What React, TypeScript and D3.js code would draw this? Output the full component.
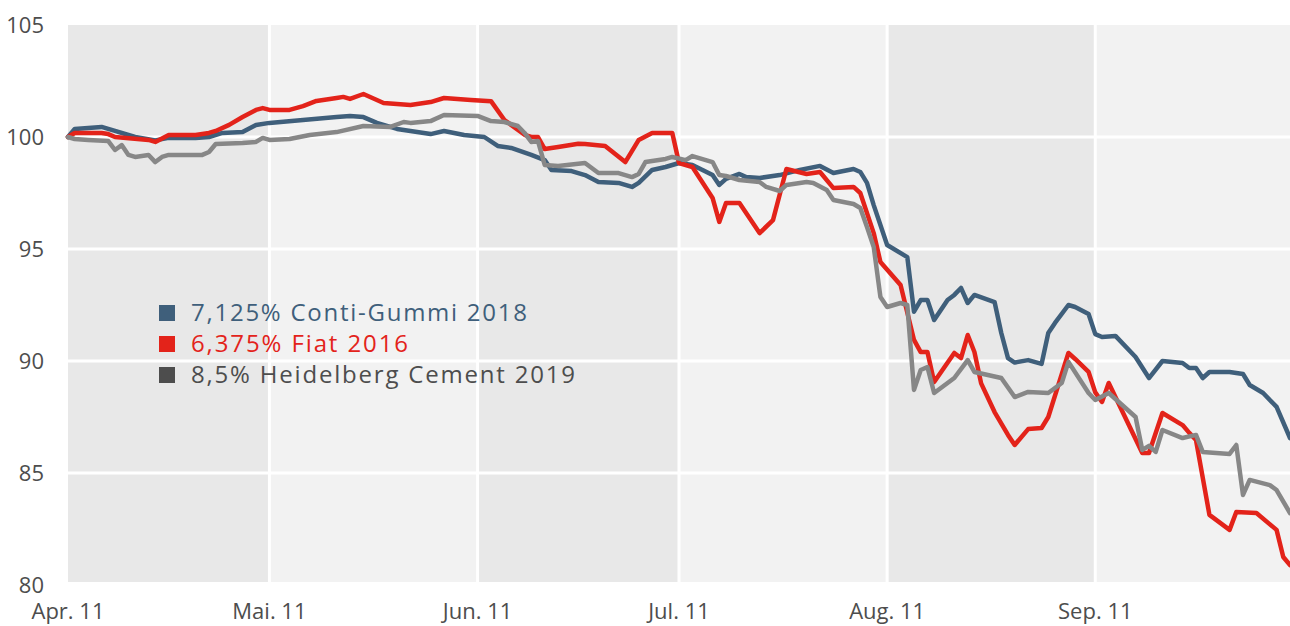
import * as d3 from 'd3';

// month ticks and labels
const monthStarts = ['2011-04-01', '2011-05-01', '2011-06-01', '2011-07-01', '2011-08-01', '2011-09-01'];
const monthLabels = ['Apr. 11', 'Mai. 11', 'Jun. 11', 'Jul. 11', 'Aug. 11', 'Sep. 11'];
const yTicks = [80, 85, 90, 95, 100, 105];

const seriesNames = ['7,125% Conti-Gummi 2018', '6,375% Fiat 2016', '8,5% Heidelberg Cement 2019'];

const conti: [string, number][] = [
  ['04-01', 100], ['04-02', 100.36], ['04-04', 100.4], ['04-06', 100.45], ['04-08', 100.27],
  ['04-10', 100.09], ['04-11', 100.0], ['04-14', 99.85], ['04-16', 99.96], ['04-20', 99.96],
  ['04-22', 100.0], ['04-24', 100.18], ['04-27', 100.22], ['04-29', 100.54], ['05-01', 100.63],
  ['05-06', 100.76], ['05-11', 100.89], ['05-13', 100.94], ['05-15', 100.89], ['05-17', 100.63],
  ['05-20', 100.36], ['05-22', 100.27], ['05-25', 100.13], ['05-27', 100.27], ['05-30', 100.09],
  ['06-02', 100.0], ['06-04', 99.6], ['06-06', 99.51], ['06-09', 99.2], ['06-11', 98.97],
  ['06-12', 98.53], ['06-15', 98.48], ['06-17', 98.3], ['06-19', 97.99], ['06-22', 97.95],
  ['06-24', 97.77], ['06-25', 97.95], ['06-27', 98.53], ['06-29', 98.66], ['07-01', 98.84],
  ['07-03', 98.75], ['07-06', 98.3], ['07-07', 97.86], ['07-08', 98.13], ['07-10', 98.35],
  ['07-11', 98.21], ['07-13', 98.17], ['07-16', 98.3], ['07-19', 98.53], ['07-22', 98.71],
  ['07-24', 98.39], ['07-27', 98.57], ['07-28', 98.44], ['07-29', 97.95], ['07-30', 96.96],
  ['08-01', 95.18], ['08-04', 94.64], ['08-05', 92.2], ['08-06', 92.72], ['08-07', 92.72],
  ['08-08', 91.83], ['08-10', 92.72], ['08-11', 92.95], ['08-12', 93.26], ['08-13', 92.59],
  ['08-14', 92.95], ['08-17', 92.63], ['08-18', 91.25], ['08-19', 90.13], ['08-20', 89.93],
  ['08-22', 90.04], ['08-24', 89.87], ['08-25', 91.25], ['08-26', 91.7], ['08-28', 92.5],
  ['08-29', 92.41], ['08-31', 92.1], ['09-01', 91.2], ['09-02', 91.07], ['09-04', 91.12],
  ['09-07', 90.18], ['09-09', 89.24], ['09-11', 90.0], ['09-14', 89.91], ['09-15', 89.69],
  ['09-16', 89.69], ['09-17', 89.24], ['09-18', 89.51], ['09-21', 89.51], ['09-23', 89.42],
  ['09-24', 88.93], ['09-26', 88.57], ['09-28', 87.95], ['09-30', 86.56],
];

const fiat: [string, number][] = [
  ['04-01', 100], ['04-02', 100.18], ['04-06', 100.18], ['04-07', 100.13], ['04-08', 100.0],
  ['04-13', 99.87], ['04-14', 99.78], ['04-16', 100.09], ['04-20', 100.09], ['04-22', 100.18],
  ['04-23', 100.27], ['04-25', 100.54], ['04-27', 100.89], ['04-29', 101.21], ['04-30', 101.29],
  ['05-01', 101.21], ['05-04', 101.21], ['05-06', 101.38], ['05-08', 101.61], ['05-11', 101.74],
  ['05-12', 101.79], ['05-13', 101.7], ['05-15', 101.92], ['05-18', 101.52], ['05-20', 101.47],
  ['05-22', 101.43], ['05-25', 101.56], ['05-27', 101.74], ['05-31', 101.65], ['06-03', 101.6],
  ['06-05', 100.76], ['06-08', 100.1], ['06-09', 100.0], ['06-10', 100.0], ['06-11', 99.46],
  ['06-13', 99.55], ['06-16', 99.7], ['06-17', 99.69], ['06-20', 99.6], ['06-23', 98.88],
  ['06-25', 99.87], ['06-27', 100.18], ['06-30', 100.18], ['07-01', 98.84], ['07-03', 98.66],
  ['07-06', 97.28], ['07-07', 96.21], ['07-08', 97.05], ['07-10', 97.05], ['07-13', 95.71],
  ['07-15', 96.29], ['07-17', 98.57], ['07-20', 98.35], ['07-22', 98.44], ['07-24', 97.72],
  ['07-27', 97.77], ['07-28', 97.5], ['07-30', 95.71], ['07-31', 94.42], ['08-03', 93.39],
  ['08-05', 90.94], ['08-06', 90.4], ['08-07', 90.4], ['08-08', 89.06], ['08-11', 90.36],
  ['08-12', 90.13], ['08-13', 91.16], ['08-14', 90.4], ['08-15', 89.0], ['08-17', 87.72],
  ['08-19', 86.7], ['08-20', 86.25], ['08-22', 86.96], ['08-24', 87.01], ['08-25', 87.5],
  ['08-28', 90.36], ['08-29', 90.09], ['08-31', 89.51], ['09-01', 88.6], ['09-02', 88.17],
  ['09-03', 89.02], ['09-08', 85.89], ['09-09', 85.89], ['09-11', 87.68], ['09-14', 87.14],
  ['09-15', 86.79], ['09-16', 86.47], ['09-18', 83.13], ['09-21', 82.46], ['09-22', 83.26],
  ['09-25', 83.21], ['09-28', 82.46], ['09-29', 81.25], ['09-30', 80.89],
];

const heidelberg: [string, number][] = [
  ['04-01', 100], ['04-02', 99.91], ['04-04', 99.87], ['04-07', 99.82], ['04-08', 99.42],
  ['04-09', 99.64], ['04-10', 99.2], ['04-11', 99.11], ['04-13', 99.2], ['04-14', 98.88],
  ['04-15', 99.11], ['04-16', 99.2], ['04-21', 99.2], ['04-22', 99.33], ['04-23', 99.69],
  ['04-27', 99.73], ['04-29', 99.78], ['04-30', 99.96], ['05-01', 99.87], ['05-04', 99.91],
  ['05-07', 100.09], ['05-11', 100.22], ['05-15', 100.49], ['05-19', 100.45], ['05-21', 100.67],
  ['05-22', 100.63], ['05-25', 100.71], ['05-27', 100.98], ['06-01', 100.94], ['06-03', 100.71],
  ['06-05', 100.67], ['06-07', 100.49], ['06-08', 100.18], ['06-09', 99.78], ['06-10', 99.82],
  ['06-11', 98.75], ['06-13', 98.71], ['06-17', 98.84], ['06-19', 98.39], ['06-22', 98.39],
  ['06-24', 98.21], ['06-25', 98.35], ['06-26', 98.88], ['06-29', 99.02], ['06-30', 99.11],
  ['07-02', 98.97], ['07-03', 99.15], ['07-06', 98.88], ['07-07', 98.3], ['07-08', 98.26],
  ['07-10', 98.08], ['07-13', 97.99], ['07-14', 97.77], ['07-16', 97.59], ['07-17', 97.86],
  ['07-20', 97.99], ['07-21', 97.95], ['07-23', 97.63], ['07-24', 97.19], ['07-27', 97.01],
  ['07-28', 96.83], ['07-29', 95.98], ['07-30', 95.09], ['07-31', 92.86], ['08-01', 92.41],
  ['08-03', 92.59], ['08-04', 92.5], ['08-05', 88.71], ['08-06', 89.6], ['08-07', 89.73],
  ['08-08', 88.57], ['08-11', 89.24], ['08-13', 90.04], ['08-14', 89.51], ['08-18', 89.24],
  ['08-20', 88.39], ['08-22', 88.62], ['08-25', 88.57], ['08-27', 89.02], ['08-28', 89.96],
  ['08-31', 88.57], ['09-01', 88.26], ['09-03', 88.57], ['09-07', 87.5], ['09-08', 86.03],
  ['09-09', 86.21], ['09-10', 85.94], ['09-11', 86.92], ['09-14', 86.56], ['09-16', 86.7],
  ['09-17', 85.94], ['09-21', 85.85], ['09-22', 86.25], ['09-23', 84.02], ['09-24', 84.69],
  ['09-27', 84.46], ['09-28', 84.24], ['09-30', 83.21],
];

const lineColors = ['#3f5f7b', '#e3231a', '#878787'];
const legendSwatch = ['#3f5f7b', '#e3231a', '#4d4d4d'];
const legendText = ['#3f5f7b', '#e3231a', '#4d4d4d'];
// legend text widths as measured on the reference
const legendWidths = [336, 217, 384];

export default function App() {
  const width = 1290;
  const height = 626;
  const left = 68;
  const right = 1290;
  const plotBottom = 582;
  const font = "'Open Sans', 'Noto Sans', sans-serif";

  const parse = d3.timeParse('%Y-%m-%d');
  const x = d3
    .scaleTime()
    .domain([parse('2011-04-01')!, parse('2011-09-30')!])
    .range([left, right]);
  const y = d3.scaleLinear().domain([80, 105]).range([585, 25]);

  const months = monthStarts.map((m) => parse(m)!);
  const bandEdges = months.map((m) => x(m)).concat([right]);

  const line = d3
    .line<[string, number]>()
    .x((d) => x(parse('2011-' + d[0])!))
    .y((d) => y(d[1]));

  const allSeries = [conti, fiat, heidelberg];

  return (
    <svg
      width={width}
      height={height}
      style={{ position: 'absolute', left: 0, top: 0, background: '#fff' }}
    >
      {/* alternating month bands */}
      {months.map((m, i) => (
        <rect
          key={'band' + i}
          x={bandEdges[i]}
          y={y(105)}
          width={bandEdges[i + 1] - bandEdges[i]}
          height={plotBottom - y(105)}
          fill={i % 2 === 0 ? '#e8e8e8' : '#f2f2f2'}
        />
      ))}
      {/* horizontal grid */}
      {yTicks
        .filter((t) => t > 80 && t < 105)
        .map((t) => (
          <line key={'h' + t} x1={left} x2={right} y1={y(t)} y2={y(t)} stroke='#fff' strokeWidth={3} />
        ))}
      {/* vertical month lines */}
      {months.slice(1).map((m, i) => (
        <line
          key={'v' + i}
          x1={x(m)}
          x2={x(m)}
          y1={y(105)}
          y2={plotBottom}
          stroke='#fff'
          strokeWidth={3}
        />
      ))}

      {/* y tick labels */}
      {yTicks.map((t) => (
        <text
          key={'yt' + t}
          x={44}
          y={y(t)}
          dy='0.35em'
          textAnchor='end'
          fontFamily={font}
          fontSize={22}
          fill='#4d4d4d'
        >
          {t}
        </text>
      ))}
      {/* x tick labels */}
      {months.map((m, i) => (
        <text
          key={'xt' + i}
          x={x(m)}
          y={619}
          textAnchor='middle'
          fontFamily={font}
          fontSize={22}
          fill='#4d4d4d'
        >
          {monthLabels[i]}
        </text>
      ))}

      {/* series lines */}
      {allSeries.map((s, i) => (
        <path
          key={'s' + i}
          d={line(s) ?? ''}
          fill='none'
          stroke={lineColors[i]}
          strokeWidth={4.5}
          strokeLinejoin='round'
          strokeLinecap='round'
        />
      ))}

      {/* legend */}
      {seriesNames.map((name, i) => (
        <g key={'lg' + i} transform={`translate(159, ${313 + i * 31})`}>
          <rect x={0} y={-8} width={16} height={16} fill={legendSwatch[i]} />
          <text
            x={32}
            y={0}
            dy='0.35em'
            fontFamily={font}
            fontSize={24}
            textLength={legendWidths[i]}
            lengthAdjust='spacing'
            fill={legendText[i]}
          >
            {name}
          </text>
        </g>
      ))}
    </svg>
  );
}
